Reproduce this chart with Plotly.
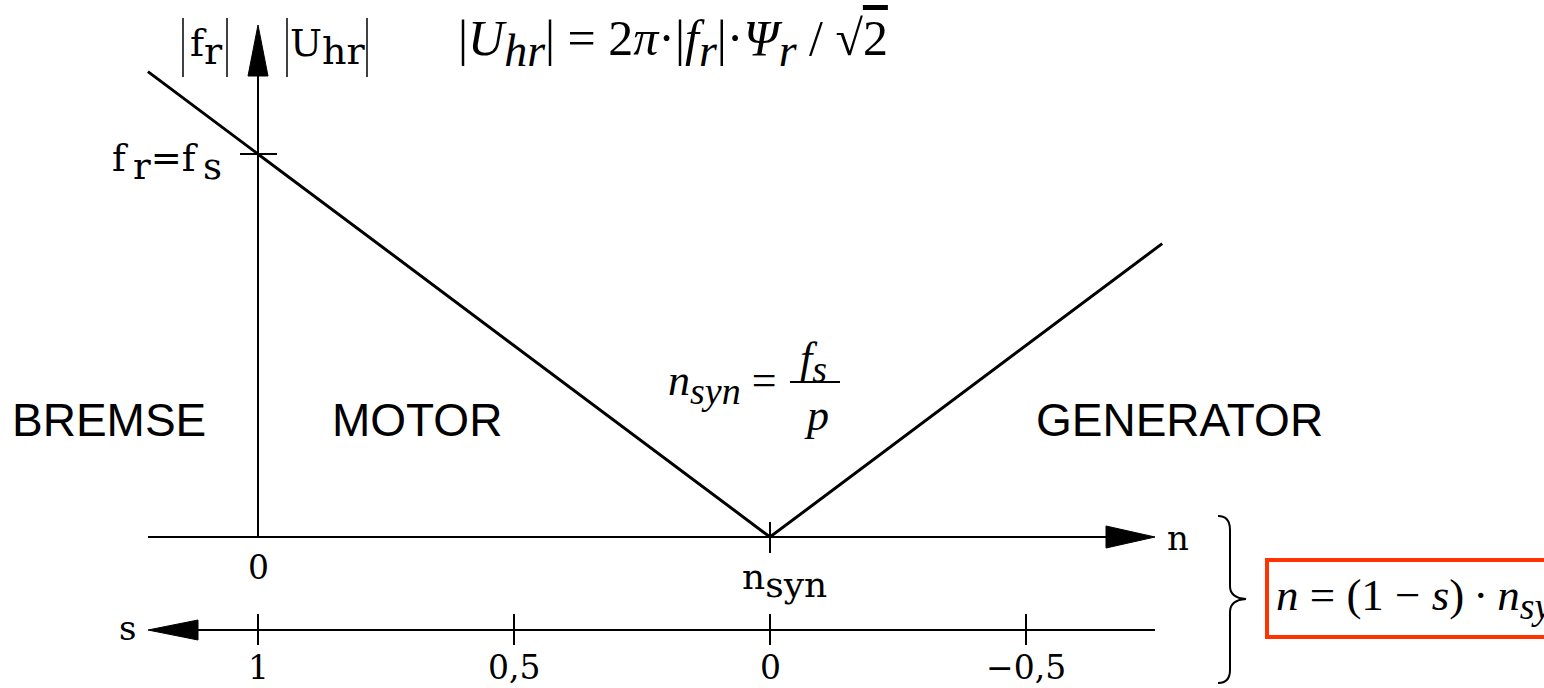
import plotly.graph_objects as go

# ---- data (speed in units of n_syn, rotor frequency in units of f_s) ----
n_vals = [-0.215, 1.0, 1.766]
fr_vals = [1.215, 0.0, 0.766]

s_ticks = [1, 0.5, 0, -0.5]
s_labels = ["1", "0,5", "0", "\u22120,5"]
n_ticks = [0, 1]
n_labels = ["0", "n<sub><span style='font-size:36px'>syn</span></sub>"]
fr_tick = 1.0
fr_tick_label = ("f\u2009<sub><span style='font-size:37px'>r</span></sub>=f\u2009"
                 "<sub><span style='font-size:37px'>s</span></sub>")
regions = ["BREMSE", "MOTOR", "GENERATOR"]
region_n = [-0.291, 0.31, 1.799]
region_fr = 0.305

W, H = 1544, 688
X0, SX, Y0, SY = 258.0, 512.0, 537.0, 383.0


def px(x):
    return (x - X0) / SX


def py(y):
    return (Y0 - y) / SY


def sub(t, size, italic=False):
    if italic:
        t = f"<i>{t}</i>"
    return f"<sub><span style='font-size:{size}px'>{t}</span></sub>"


SERIF = "DejaVu Serif"
TIMES = "Liberation Serif"
SANS = "Liberation Sans"
BLACK = "#000000"

fig = go.Figure()
fig.add_trace(go.Scatter(x=n_vals, y=fr_vals, mode="lines",
                         line=dict(color=BLACK, width=3), hoverinfo="skip"))

shapes = []
ann = []


def seg(x0, y0, x1, y1, w=2, color=BLACK):
    shapes.append(dict(type="line", xref="x", yref="y", x0=x0, y0=y0, x1=x1, y1=y1,
                       line=dict(color=color, width=w)))


def tri(pts):
    d = "M " + " L ".join(f"{a},{b}" for a, b in pts) + " Z"
    shapes.append(dict(type="path", xref="x", yref="y", path=d,
                       fillcolor=BLACK, line=dict(color=BLACK, width=1)))


def text(x, y, t, size, family=SERIF, xanchor="center", yanchor="middle", xshift=0, yshift=0):
    ann.append(dict(x=x, y=y, xref="x", yref="y", text=t, showarrow=False,
                    font=dict(family=family, size=size, color=BLACK),
                    xanchor=xanchor, yanchor=yanchor, xshift=xshift, yshift=yshift))


# n axis
seg(px(148), 0, px(1108), 0)
tri([(px(1106), py(526)), (px(1155), 0), (px(1106), py(548))])
text(px(1178), py(538), "n", 34)
# vertical axis
seg(0, 0, 0, py(74))
tri([(px(248), py(76)), (0, py(25)), (px(268), py(76))])
# s axis
ys = py(630)
seg(px(196), ys, px(1155), ys)
tri([(px(198), py(620)), (px(148), ys), (px(198), py(640))])
text(px(127), py(628), "s", 34)

# s ticks (n = 1 - s)
for s, lab in zip(s_ticks, s_labels):
    seg(1 - s, py(614), 1 - s, py(645))
    text(1 - s, py(667), lab, 33)

# n ticks
seg(1, py(522), 1, py(553))
text(n_ticks[0], py(567), n_labels[0], 33)
text(n_ticks[1], py(580), n_labels[1], 36, xshift=14)

# f_r = f_s tick
seg(px(240), fr_tick, px(277), fr_tick)
text(px(224), fr_tick, fr_tick_label, 37, xanchor="right", yshift=-8)

# axis titles with tall absolute-value bars
for xb in (183, 227, 287, 367):
    seg(px(xb), py(18), px(xb), py(77), w=1.5)
text(px(206), py(47), "f" + sub("r", 38), 38)
text(px(328), py(47), "U" + sub("hr", 38), 38)

# formulas
text(px(673), py(43),
     "|<i>U</i>" + sub("hr", 46, True) + "| = 2<i>π</i>·|<i>f</i>" + sub("r", 46, True)
     + "|·<i>Ψ</i>" + sub("r", 46, True)
     + " / √<span style='text-decoration:overline'>2</span>",
     50, family=TIMES)
text(px(722), py(384), "<i>n</i>" + sub("syn", 38, True) + " =", 44, family=TIMES)
text(px(813), py(362), "<i>f</i>" + sub("s", 38, True), 44, family=TIMES)
seg(px(790), py(382), px(840), py(382), w=2)
text(px(816), py(415), "<i>p</i>", 44, family=TIMES)

# regions
for r, xn in zip(regions, region_n):
    text(xn, region_fr, r, 46, family=SANS)

# brace
bp = [("M", 1218, 516), ("Q", 1230, 516, 1230, 530), ("L", 1230, 586),
      ("Q", 1230, 598, 1246, 599), ("Q", 1230, 600, 1230, 612), ("L", 1230, 670),
      ("Q", 1230, 683, 1218, 683)]
d = ""
for p in bp:
    cmd = p[0]
    coords = p[1:]
    pairs = [f"{px(coords[i])},{py(coords[i+1])}" for i in range(0, len(coords), 2)]
    d += cmd + " " + " ".join(pairs) + " "
shapes.append(dict(type="path", xref="x", yref="y", path=d.strip(),
                   line=dict(color=BLACK, width=2)))

# red box with formula (runs off the right edge, as in the reference)
shapes.append(dict(type="rect", xref="x", yref="y", x0=px(1267), x1=px(1620),
                   y0=py(560), y1=py(637), line=dict(color="#ff3300", width=4)))
text(px(1274), py(598),
     "<i>n</i> = (1 − <i>s</i>)\u2009·\u2009<i>n</i>" + sub("syn", 38, True), 45,
     family=TIMES, xanchor="left")

fig.update_layout(
    width=W, height=H, margin=dict(l=0, r=0, t=0, b=0),
    paper_bgcolor="white", plot_bgcolor="white", showlegend=False,
    xaxis=dict(range=[px(0), px(W)], visible=False, fixedrange=True),
    yaxis=dict(range=[py(H), py(0)], visible=False, fixedrange=True),
    shapes=shapes, annotations=ann,
)

fig.write_html("out.html", config={"displayModeBar": False},
               post_script="document.body.style.margin='0';document.body.style.overflow='hidden';")
